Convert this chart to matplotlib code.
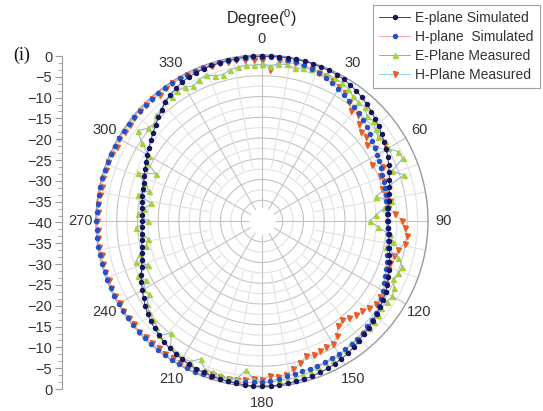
import numpy as np
import matplotlib
matplotlib.use("Agg")
import matplotlib.pyplot as plt
from matplotlib.ticker import MultipleLocator, AutoMinorLocator, FuncFormatter

plt.rcParams['font.family'] = ['Liberation Sans', 'DejaVu Sans']
plt.rcParams['mathtext.fontset'] = 'custom'
plt.rcParams['mathtext.rm'] = 'Liberation Sans'

# angles in degrees, one point every 3 degrees
angles = np.arange(0, 360, 3)

e_sim = [-0.3, -0.3, -0.2, -0.2, -0.2, -0.2, -0.2, -0.3, -0.3, -0.4,
         -0.6, -0.9, -1.3, -1.7, -2.2, -2.7, -3.3, -3.8, -4.4, -4.9,
         -5.4, -6.0, -6.6, -7.2, -7.7, -8.2, -8.7, -9.1, -9.4, -9.6,
         -9.6, -9.5, -9.3, -9.0, -8.6, -8.2, -7.7, -7.2, -6.7, -6.1,
         -5.6, -5.2, -4.8, -4.4, -4.1, -3.7, -3.3, -2.9, -2.4, -2.0,
         -1.7, -1.4, -1.1, -0.9, -0.7, -0.6, -0.5, -0.4, -0.3, -0.2,
         -0.2, -0.2, -0.3, -0.4, -0.5, -0.6, -0.7, -0.9, -1.0, -1.2,
         -1.5, -1.8, -2.1, -2.5, -2.9, -3.4, -3.9, -4.5, -5.2, -6.0,
         -6.7, -7.4, -8.2, -8.9, -9.6, -10.0, -10.4, -10.7, -10.9, -11.1,
         -11.2, -11.1, -11.0, -10.8, -10.5, -10.2, -10.0, -9.6, -9.1, -8.6,
         -8.1, -7.5, -6.9, -6.2, -5.5, -4.7, -3.9, -3.0, -2.4, -1.9,
         -1.4, -1.1, -0.9, -0.7, -0.6, -0.5, -0.4, -0.4, -0.3, -0.3]

h_sim = [-0.5, -0.5, -0.6, -0.7, -0.9, -1.1, -1.4, -1.8, -2.3, -2.8,
         -3.3, -3.8, -4.2, -4.6, -5.1, -5.5, -6.0, -6.5, -7.1, -7.6,
         -8.0, -8.3, -8.6, -8.9, -9.2, -9.4, -9.5, -9.7, -9.8, -9.8,
         -9.8, -9.7, -9.5, -9.3, -9.0, -8.7, -8.4, -8.0, -7.5, -6.9,
         -6.2, -5.7, -5.2, -4.8, -4.4, -4.1, -3.8, -3.5, -3.3, -3.1,
         -3.0, -2.9, -2.8, -2.7, -2.6, -2.5, -2.3, -2.1, -1.8, -1.5,
         -1.3, -1.1, -0.9, -0.7, -0.6, -0.5, -0.4, -0.4, -0.3, -0.3,
         -0.2, -0.2, -0.2, -0.1, -0.1, -0.1, -0.1, -0.1, -0.1, -0.1,
         -0.1, -0.1, -0.1, -0.1, -0.1, -0.1, -0.1, -0.1, -0.1, -0.1,
         -0.1, -0.2, -0.2, -0.2, -0.2, -0.2, -0.2, -0.2, -0.2, -0.2,
         -0.2, -0.3, -0.3, -0.3, -0.3, -0.3, -0.3, -0.3, -0.3, -0.3,
         -0.3, -0.4, -0.4, -0.4, -0.4, -0.4, -0.5, -0.5, -0.5, -0.5]

e_meas = [-2.2, -2.5, -2.0, -1.8, -2.3, -1.9, -1.5, -1.6, -1.2, -1.4,
          -1.5, -2.0, -2.8, -3.2, -3.0, -4.2, -4.0, -4.8, -5.5, -4.6,
          -5.0, -3.2, -2.9, -6.5, -4.0, -9.0, -12.0, -8.5, -10.5, -12.5,
          -14.0, -12.0, -9.0, -8.0, -9.5, -6.0, -4.5, -4.8, -5.5, -4.2,
          -3.8, -4.2, -4.5, -4.0, -3.8, -3.6, -3.9, -3.2, -3.6, -3.0,
          -2.7, -2.5, -2.8, -2.2, -1.8, -1.6, -1.4, -1.3, -1.5, -1.0,
          -1.2, -1.6, -4.0, -1.5, -1.3, -1.5, -1.8, -1.6, -3.6, -2.0,
          -1.8, -2.2, -2.6, -5.2, -3.0, -4.0, -4.5, -5.0, -5.8, -7.5,
          -7.0, -8.5, -7.2, -10.5, -8.0, -9.5, -11.5, -12.2, -11.0, -9.5,
          -12.5, -10.0, -11.5, -13.0, -9.5, -11.8, -10.2, -8.0, -12.0, -9.0,
          -8.5, -5.5, -3.0, -4.5, -5.0, -4.0, -3.8, -2.8, -3.0, -2.6,
          -2.8, -3.5, -2.7, -2.4, -3.2, -3.5, -2.8, -2.5, -2.2, -2.4]

h_meas = [-1.2, -3.6, -1.3, -1.5, -1.2, -1.6, -1.4, -1.8, -2.0, -2.2,
          -2.8, -3.2, -4.5, -5.8, -5.6, -6.8, -8.0, -7.8, -8.8, -7.5,
          -5.5, -10.3, -8.0, -9.5, -9.0, -10.0, -9.4, -8.8, -9.5, -8.0,
          -6.3, -5.5, -4.8, -5.2, -6.5, -7.0, -7.6, -7.5, -7.0, -6.6,
          -6.0, -6.2, -6.0, -6.8, -7.5, -8.0, -8.6, -9.2, -8.7, -7.0,
          -5.8, -6.0, -5.6, -5.3, -5.8, -4.5, -3.5, -2.5, -2.2, -2.6,
          -1.8, -1.8, -1.5, -1.3, -1.2, -1.0, -0.9, -0.8, -0.8, -0.6,
          -0.5, -0.7, -0.4, -0.6, -0.3, -0.5, -0.2, -0.4, -0.3, -0.2,
          -0.4, -0.2, -0.3, -0.5, -0.2, -0.3, -0.6, -0.3, -0.2, -0.4,
          -0.3, -0.5, -0.2, -0.4, -0.6, -0.3, -0.5, -0.2, -0.4, -0.7,
          -0.3, -0.5, -0.8, -0.4, -0.3, -0.6, -0.4, -0.9, -0.5, -0.3,
          -0.6, -0.4, -0.7, -0.5, -0.8, -0.6, -0.9, -0.7, -1.0, -1.1]

theta_labels = ['0', '30', '60', '90', '120', '150', '180', '210', '240', '270', '300', '330']
legend_names = ['E-plane Simulated', 'H-plane  Simulated', 'E-Plane Measured', 'H-Plane Measured']

fig = plt.figure(figsize=(5.43, 4.11), dpi=100)

# polar axes, centre at about (262, 222) px, radius 166 px
ax = fig.add_axes([96 / 543, 24 / 411, 332 / 543, 332 / 411], projection='polar')
ax.set_theta_zero_location('N')
ax.set_theta_direction(-1)
ax.set_rlim(-40, 0)

# grid by hand
ax.grid(False)
ax.set_yticks([])
full = np.linspace(0, 2 * np.pi, 400)
for r in np.arange(-37.5, 0, 2.5):
    col = '#c4c4c4' if r % 5 == 0 else '#e2e2e2'
    ax.plot(full, np.full_like(full, r), color=col, lw=0.8, zorder=1)
for a in range(0, 360, 10):
    if a % 30 == 0:
        ax.plot([np.radians(a)] * 2, [-40, 0], color='#c4c4c4', lw=0.8, zorder=1)
    else:
        ax.plot([np.radians(a)] * 2, [-27, 0], color='#e2e2e2', lw=0.8, zorder=1)
ax.fill_between(full, -40, -37, color='white', zorder=2)
ax.spines['polar'].set_color('#9a9a9a')
ax.spines['polar'].set_linewidth(1.0)

ax.set_xticks(np.radians(np.arange(0, 360, 30)))
ax.set_xticklabels(theta_labels, fontsize=10.5, color='#333333')
ax.tick_params(axis='x', pad=1)

th = np.radians(angles)
th_c = np.append(th, th[0])

def closed(v):
    return np.append(v, v[0])

l4, = ax.plot(th_c, closed(h_meas), color='#8fd8ec', lw=0.7, marker='v', ms=3.6,
              mfc='#f05a22', mec='#f05a22', zorder=3, clip_on=False)
l3, = ax.plot(th_c, closed(e_meas), color='#8fa8dc', lw=0.7, marker='^', ms=3.6,
              mfc='#a6d23a', mec='#a6d23a', zorder=4, clip_on=False)
l2, = ax.plot(th_c, closed(h_sim), color='#f4a0b4', lw=0.7, marker='o', ms=2.9,
              mfc='#2352c4', mec='#2352c4', zorder=5, clip_on=False)
l1, = ax.plot(th_c, closed(e_sim), color='#3a3a80', lw=0.7, marker='o', ms=2.9,
              mfc='#161660', mec='#161660', zorder=6, clip_on=False)

# left dB scale: 0 at top, -40 at centre, 0 at bottom
ax2 = fig.add_axes([62 / 543, 22 / 411, 0.0001, 333 / 411])
ax2.set_ylim(80, 0)
ax2.set_xticks([])
for s in ['top', 'right', 'bottom']:
    ax2.spines[s].set_visible(False)
ax2.spines['left'].set_color('#9a9a9a')
ax2.yaxis.set_major_locator(MultipleLocator(5))
ax2.yaxis.set_minor_locator(AutoMinorLocator(3))
ax2.yaxis.set_major_formatter(FuncFormatter(lambda v, p: '{:d}'.format(int(round(abs(v - 40) - 40))).replace('-', '\u2212')))
ax2.tick_params(axis='y', which='major', length=5, color='#9a9a9a', labelsize=10.5,
                labelcolor='#333333', pad=2)
ax2.tick_params(axis='y', which='minor', length=3, color='#9a9a9a')
ax2.patch.set_visible(False)

fig.text(262 / 543, 1 - 18 / 411, r'Degree($^\mathregular{0}$)', ha='center', va='center',
         fontsize=11.5, color='#222222')
fig.text(22 / 543, 1 - 55 / 411, '(i)', ha='center', va='center', fontsize=13,
         family='Liberation Serif', color='#111111')

leg = fig.legend([l1, l2, l3, l4], legend_names, loc='upper right',
                 bbox_to_anchor=(540 / 543, 1 - 5 / 411), fontsize=10,
                 frameon=True, fancybox=False, borderpad=0.45, labelspacing=0.35,
                 handlelength=2.2, handletextpad=0.4, borderaxespad=0)
leg.get_frame().set_edgecolor('#888888')
leg.get_frame().set_linewidth(0.8)
for t in leg.get_texts():
    t.set_color('#333333')

fig.savefig('out.png', dpi=100)
